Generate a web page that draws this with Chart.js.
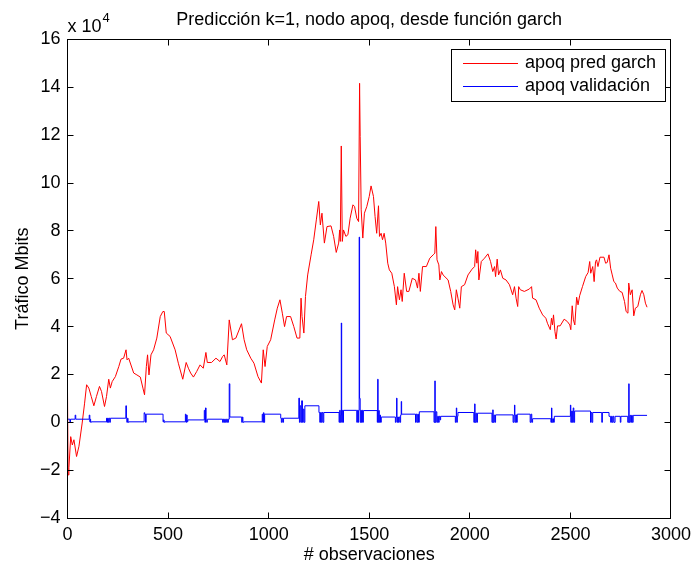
<!DOCTYPE html>
<html>
<head>
<meta charset="utf-8">
<script src="https://cdn.jsdelivr.net/npm/chart.js@4.4.1/dist/chart.umd.min.js"></script>
<style>
  html, body { margin: 0; padding: 0; background: #fff; }
  #wrap { width: 697px; height: 568px; }
</style>
</head>
<body>
<div id="wrap"><canvas id="chart" width="697" height="568"></canvas></div>
<script>
/* Predicción garch vs validación, nodo apoq (valores en unidades de 10^4 Mbits) */

const TITLE = "Predicción k=1, nodo apoq, desde función garch";
const X_LABEL = "# observaciones";
const Y_LABEL = "Tráfico Mbits";
const LABELS = ["apoq pred garch", "apoq validación"];

// serie roja: predicción garch
const predObs = [
  0, 3, 7, 16, 24, 32, 45, 57, 73, 85,
  95, 106, 118, 131, 144, 159, 169, 184, 194, 205,
  213, 222, 238, 255, 266, 279, 291, 296, 304, 329,
  345, 362, 375, 383, 392, 398, 405, 415, 428, 444,
  461, 474, 481, 491, 510, 535, 551, 573, 590, 601,
  612, 626, 642, 659, 675, 688, 695, 716, 738, 758,
  771, 779, 792, 804, 820, 837, 865, 878, 891, 911,
  927, 947, 964, 973, 982, 993, 1010, 1030, 1043, 1056,
  1068, 1079, 1089, 1109, 1125, 1141, 1155, 1161, 1166, 1175,
  1183, 1194, 1211, 1224, 1237, 1249, 1257, 1265, 1277, 1290,
  1310, 1323, 1336, 1348, 1353, 1356, 1361, 1366, 1372, 1384,
  1394, 1405, 1419, 1427, 1438, 1447, 1452, 1455, 1460, 1468,
  1476, 1488, 1500, 1509, 1521, 1529, 1537, 1546, 1551, 1559,
  1566, 1574, 1582, 1592, 1600, 1612, 1625, 1635, 1641, 1650,
  1658, 1664, 1674, 1686, 1697, 1714, 1730, 1740, 1747, 1754,
  1765, 1784, 1801, 1818, 1826, 1831, 1837, 1846, 1851, 1859,
  1867, 1892, 1905, 1917, 1925, 1933, 1941, 1950, 1958, 1974,
  1991, 2011, 2024, 2029, 2035, 2040, 2045, 2057, 2073, 2090,
  2103, 2114, 2123, 2128, 2136, 2143, 2152, 2164, 2180, 2197,
  2213, 2222, 2230, 2238, 2243, 2251, 2271, 2296, 2307, 2312,
  2329, 2345, 2362, 2378, 2386, 2400, 2406, 2411, 2416, 2423,
  2429, 2436, 2449, 2469, 2485, 2497, 2502, 2509, 2515, 2522,
  2531, 2538, 2546, 2560, 2576, 2588, 2596, 2601, 2611, 2618,
  2625, 2630, 2637, 2647, 2667, 2675, 2683, 2692, 2700, 2708,
  2716, 2724, 2733, 2746, 2757, 2769, 2777, 2786, 2790, 2798,
  2807, 2815, 2823, 2835, 2848, 2856, 2865, 2873, 2881
];
const predVal = [
  1.3, -2.2, -1.9, -0.6, -0.95, -0.73, -1.43, -1.0, -0.03, 0.8,
  1.57, 1.43, 1.08, 0.69, 1.08, 1.5, 1.29, 0.66, 1.08, 1.8,
  1.43, 1.7, 1.91, 2.33, 2.64, 2.68, 3.03, 2.61, 2.68, 2.06,
  1.98, 1.89, 1.43, 1.15, 2.33, 2.82, 1.98, 2.82, 3.03, 3.52,
  4.42, 4.63, 4.63, 3.73, 3.59, 3.03, 2.47, 1.8, 2.5, 2.26,
  2.06, 1.89, 2.12, 2.4, 2.26, 2.92, 2.5, 2.5, 2.68, 2.54,
  2.75, 2.82, 2.4, 4.28, 3.45, 3.52, 4.12, 3.45, 3.03, 2.68,
  2.47, 1.91, 1.64, 3.03, 2.33, 3.17, 3.45, 4.28, 4.77, 5.12,
  4.56, 4.0, 4.42, 4.42, 4.0, 3.52, 3.52, 5.19, 4.42, 3.73,
  5.26, 6.16, 7.0, 7.63, 8.46, 9.23, 8.25, 8.74, 7.49, 8.18,
  8.21, 7.77, 7.1, 7.49, 8.04, 7.56, 11.55, 7.56, 8.04, 7.77,
  7.84, 8.53, 9.09, 9.02, 8.53, 8.39, 14.17, 11.94, 8.88, 7.7,
  8.74, 9.02, 9.44, 9.88, 9.44, 8.6, 7.9, 9.05, 7.77, 7.9,
  7.63, 7.9, 7.49, 6.65, 6.37, 6.23, 5.67, 4.91, 5.67, 5.12,
  5.54, 5.05, 6.23, 5.47, 5.47, 6.02, 5.95, 5.61, 6.23, 5.47,
  6.51, 6.51, 6.86, 7.0, 7.07, 8.18, 6.79, 6.58, 5.95, 6.3,
  6.16, 5.95, 5.47, 4.91, 4.7, 5.54, 5.19, 4.77, 5.67, 5.75,
  6.16, 6.4, 6.51, 7.21, 6.65, 7.14, 5.95, 6.72, 6.86, 7.04,
  6.72, 6.3, 6.51, 6.09, 6.82, 6.16, 6.37, 6.02, 5.95, 5.75,
  5.33, 5.67, 5.19, 4.84, 5.67, 5.54, 5.47, 5.57, 5.67, 5.19,
  5.12, 4.77, 4.49, 4.35, 4.14, 3.87, 4.35, 4.07, 4.49, 3.8,
  3.48, 4.03, 4.03, 4.31, 4.21, 4.07, 3.87, 4.87, 4.28, 4.07,
  5.23, 4.91, 5.29, 5.67, 6.09, 6.26, 6.72, 6.23, 6.51, 5.88,
  6.72, 6.79, 6.51, 6.9, 6.9, 6.65, 6.68, 7.0, 6.44, 6.16,
  5.88, 5.82, 5.61, 5.47, 5.43, 5.05, 4.63, 4.56, 5.82, 5.33,
  5.54, 4.45, 4.77, 4.84, 5.33, 5.51, 5.33, 4.98, 4.81
];

// serie azul: validación (escalonada, cada punto abre un tramo)
const valObs = [
  0, 12, 15, 38, 41, 108, 111, 113, 115, 118,
  194, 196, 199, 203, 206, 210, 213, 290, 293, 295,
  298, 301, 304, 381, 384, 388, 391, 475, 478, 480,
  483, 586, 589, 592, 595, 598, 680, 683, 686, 689,
  692, 695, 771, 774, 777, 781, 785, 790, 795, 800,
  804, 807, 866, 869, 872, 876, 968, 971, 974, 977,
  980, 1060, 1063, 1066, 1070, 1074, 1150, 1153, 1156, 1160,
  1164, 1168, 1172, 1176, 1180, 1250, 1254, 1258, 1262, 1266,
  1270, 1274, 1350, 1353, 1356, 1359, 1361, 1363, 1366, 1369,
  1372, 1438, 1441, 1444, 1447, 1450, 1452, 1455, 1458, 1461,
  1464, 1467, 1471, 1540, 1542, 1544, 1547, 1550, 1553, 1556,
  1560, 1630, 1633, 1636, 1638, 1641, 1645, 1648, 1652, 1656,
  1659, 1661, 1730, 1733, 1737, 1741, 1745, 1749, 1822, 1826,
  1828, 1832, 1836, 1840, 1844, 1848, 1852, 1855, 1928, 1931,
  1933, 1935, 1938, 1941, 2020, 2024, 2026, 2030, 2034, 2038,
  2110, 2114, 2116, 2120, 2124, 2128, 2215, 2219, 2222, 2224,
  2228, 2232, 2236, 2300, 2304, 2308, 2312, 2403, 2406, 2408,
  2412, 2416, 2420, 2500, 2502, 2506, 2510, 2514, 2517, 2521,
  2600, 2603, 2607, 2611, 2656, 2659, 2692, 2700, 2704, 2708,
  2712, 2716, 2722, 2748, 2751, 2785, 2790, 2792, 2796, 2800,
  2804, 2808, 2812, 2881
];
const valVal = [
  0.13, 0, 0.13, 0.3, 0.13, 0.3, 0.02, 0.13, 0, 0.02,
  0.17, 0, 0.17, 0, 0.17, 0, 0.17, 0.69, 0.17, 0,
  0.17, 0, 0.02, 0.4, 0.34, 0, 0.34, 0.02, 0.1, 0,
  0.02, 0.34, 0, 0.3, 0.02, 0.1, 0.5, 0, 0.6, 0.1,
  0, 0.13, 0, 0.13, 0, 0.13, 0, 0.13, 0, 0.13,
  1.61, 0.22, 0, 0.22, 0, 0.02, 0.34, 0, 0.4, 0,
  0.34, 0.17, 0, 0.17, 0, 0.17, 1.01, 0, 0.69, 0,
  0.9, 0, 0.55, 0, 0.69, 0.41, 0, 0.41, 0, 0.41,
  0, 0.41, 0, 0.5, 0, 0.3, 4.15, 0, 0.5, 0,
  0.5, 0, 0.5, 0, 0.5, 7.74, 1.0, 0, 0.5, 0,
  0.5, 0, 0.49, 0, 1.8, 0, 0.49, 0, 0.3, 0,
  0.22, 0, 0.22, 1.01, 0, 0.22, 0, 0.22, 0, 0.3,
  0.87, 0.34, 0, 0.34, 0, 0.34, 0, 0.44, 0, 1.73,
  0, 0.44, 0, 0.25, 0, 0.25, 0.1, 0.25, 0, 0.25,
  0.6, 0, 0.25, 0.41, 0, 0.77, 0, 0.38, 0, 0.38,
  0, 0.52, 0, 0.3, 0, 0.31, 0, 0.31, 0.72, 0,
  0.31, 0, 0.34, 0, 0.34, 0, 0.15, 0, 0.6, 0,
  0.15, 0, 0.25, 0.72, 0, 0.47, 0, 0.6, 0, 0.47,
  0, 0.41, 0, 0.41, 0, 0.41, 0.25, 0, 0.25, 0,
  0.25, 0, 0.25, 0, 0.25, 0, 1.61, 0, 0.29, 0,
  0.29, 0, 0.29, 0.29
];

const FONT = "'Liberation Sans', Arial, Helvetica, sans-serif";
const TICK_LEN = 6;

const toPoints = (xs, ys) => xs.map((x, i) => ({ x, y: ys[i] }));

// caja, marcas hacia dentro, título, exponente y leyenda al estilo matlab
const matlabFrame = {
  id: "matlabFrame",
  afterDraw(chart) {
    const { ctx, chartArea: a, scales: { x, y } } = chart;
    ctx.save();
    ctx.strokeStyle = "#000";
    ctx.lineWidth = 1;
    const L = Math.floor(a.left) + 0.5, R = Math.floor(a.right) + 0.5;
    const T = Math.floor(a.top) + 0.5, B = Math.floor(a.bottom) + 0.5;
    ctx.strokeRect(L, T, R - L, B - T);

    ctx.beginPath();
    x.ticks.forEach(t => {
      const px = Math.floor(x.getPixelForValue(t.value)) + 0.5;
      ctx.moveTo(px, B); ctx.lineTo(px, B - TICK_LEN);
      ctx.moveTo(px, T); ctx.lineTo(px, T + TICK_LEN);
    });
    y.ticks.forEach(t => {
      const py = Math.floor(y.getPixelForValue(t.value)) + 0.5;
      ctx.moveTo(L, py); ctx.lineTo(L + TICK_LEN, py);
      ctx.moveTo(R, py); ctx.lineTo(R - TICK_LEN, py);
    });
    ctx.stroke();

    ctx.fillStyle = "#000";
    ctx.font = "18px " + FONT;
    ctx.textAlign = "center";
    ctx.textBaseline = "alphabetic";
    ctx.fillText(TITLE, (a.left + a.right) / 2, 25);

    ctx.textAlign = "left";
    ctx.fillText("x 10", a.left, 32);
    const w = ctx.measureText("x 10").width;
    ctx.font = "13px " + FONT;
    ctx.fillText("4", a.left + w + 1, 22);

    // leyenda
    const box = { x: 451.5, y: 49.5, w: 214, h: 52 };
    ctx.fillStyle = "#fff";
    ctx.fillRect(box.x, box.y, box.w, box.h);
    ctx.strokeStyle = "#000";
    ctx.strokeRect(box.x, box.y, box.w, box.h);
    ctx.font = "18px " + FONT;
    ctx.textBaseline = "middle";
    chart.data.datasets.forEach((ds, i) => {
      const ry = 63.5 + i * 23;
      ctx.strokeStyle = ds.borderColor;
      ctx.beginPath();
      ctx.moveTo(463, ry); ctx.lineTo(518, ry);
      ctx.stroke();
      ctx.fillStyle = "#000";
      ctx.fillText(ds.label, 525, ry);
    });
    ctx.restore();
  }
};

Chart.defaults.font.family = FONT;
Chart.defaults.font.size = 18;
Chart.defaults.color = "#000";

new Chart(document.getElementById("chart"), {
  type: "line",
  data: {
    datasets: [
      {
        label: LABELS[0],
        data: toPoints(predObs, predVal),
        borderColor: "#ff0000",
        borderWidth: 1,
        pointRadius: 0,
        tension: 0,
        order: 1
      },
      {
        label: LABELS[1],
        data: toPoints(valObs, valVal),
        borderColor: "#0000ff",
        borderWidth: 1,
        pointRadius: 0,
        stepped: true,
        order: 0
      }
    ]
  },
  options: {
    responsive: false,
    animation: false,
    events: [],
    layout: { padding: { top: 39.5, right: 23, left: 0, bottom: 0 } },
    plugins: { legend: { display: false }, tooltip: { enabled: false } },
    scales: {
      x: {
        type: "linear",
        min: 0, max: 3000,
        grid: { display: false, drawTicks: false, tickLength: 0 },
        border: { display: false },
        ticks: {
          stepSize: 500, maxRotation: 0, autoSkip: false, padding: 6,
          callback: v => String(v)
        },
        title: { display: true, text: X_LABEL, padding: { top: 0, bottom: 2 } },
        afterFit: s => { s.height = 50; }
      },
      y: {
        min: -4, max: 16,
        grid: { display: false, drawTicks: false, tickLength: 0 },
        border: { display: false },
        ticks: {
          stepSize: 2, padding: 7,
          callback: v => (v < 0 ? "\u2212" + Math.abs(v) : String(v))
        },
        title: { display: true, text: Y_LABEL, padding: { top: 12, bottom: 0 } },
        afterFit: s => { s.width = 67.5; }
      }
    }
  },
  plugins: [matlabFrame]
});
</script>
</body>
</html>
